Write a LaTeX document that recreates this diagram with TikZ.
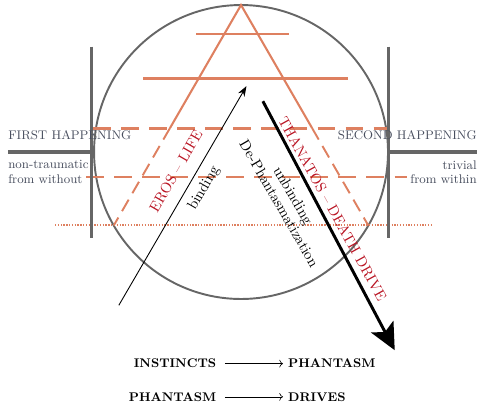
\documentclass[tikz,border=0pt]{standalone}
\usepackage{xcolor}
\usepackage{tikz}
\usetikzlibrary{arrows.meta, positioning}

\definecolor{ochre}{RGB}{222,128,96}
\definecolor{slate}{RGB}{72,78,94}
\definecolor{erosred}{RGB}{185,20,35}

\begin{document}
\begin{tikzpicture}[
  rung/.style={draw=ochre, line width=1.4pt},
  cutline/.style={draw=ochre, line width=2pt, dash pattern=on 12pt off 7pt},
  sideline/.style={draw=ochre, line width=1.3pt, dash pattern=on 9pt off 5pt},
  wall/.style={draw=black!60, line width=2.2pt},
  happen/.style={inner sep=0pt, text=slate, font=\fontsize{8.5}{9.7}\selectfont},
  forcelabel/.style={text=erosred, font=\fontsize{10}{11}\selectfont},
  termnode/.style={font=\fontsize{8.5}{10}\selectfont\bfseries}
]
  \useasboundingbox (-5.74,-6.02) rectangle (5.81,3.62);

  \draw[black!60, line width=1.3pt] (0,0) circle (3.5);

  \coordinate (apex) at (90:3.5);
  \coordinate (leftfoot) at (210:3.5);
  \coordinate (rightfoot) at (330:3.5);
  \coordinate (leftcut) at (-1.692,0.57);
  \coordinate (rightcut) at (1.692,0.57);
  \draw[rung] (leftcut) -- (apex) -- (rightcut);
  \draw[sideline] (leftcut) -- (leftfoot);
  \draw[sideline] (rightcut) -- (rightfoot);

  \draw[rung] (-1.07,2.8) -- (1.14,2.8);
  \draw[rung] (-2.33,1.75) -- (2.54,1.75);
  \draw[cutline] (-3.52,0.57) -- (3.5,0.57);
  \draw[cutline] (-3.69,-0.595) -- (3.95,-0.595);
  \draw[ochre, line width=0.9pt, densely dotted] (-4.43,-1.74) -- (4.55,-1.74);

  \draw[wall] (-3.555,2.51) -- (-3.555,-2.05);
  \draw[wall] (3.52,2.51) -- (3.52,-2.05);
  \draw[wall] (-5.55,0) -- (-3.555,0);
  \draw[wall] (3.52,0) -- (5.62,0);

  \node[happen, anchor=base west] (first) at (-5.55,0.29) {FIRST HAPPENING};
  \node[happen, anchor=base east] (second) at (5.62,0.29) {SECOND HAPPENING};
  \node[happen, anchor=north west, align=left] (without) at (-5.55,-0.2) {non-traumatic\\from without};
  \node[happen, anchor=north east, align=right] (within) at (5.62,-0.2) {trivial\\from within};

  \coordinate (bindstart) at (-2.91,-3.65);
  \coordinate (bindend) at (0.13,1.57);
  \draw[-{Stealth[length=7pt,width=5pt]}, semithick] (bindstart) -- (bindend);
  \coordinate (deathstart) at (0.52,1.21);
  \coordinate (deathend) at (3.66,-4.72);
  \draw[-{Stealth[length=18pt,width=17pt,inset=4pt]}, line width=2pt] (deathstart) -- (deathend);

  \node[forcelabel, rotate=60] (eros) at (-1.55,-0.45) {EROS -- LIFE};
  \node[font=\fontsize{10}{11}\selectfont, rotate=60] (binding) at (-0.88,-0.86) {binding};
  \node[forcelabel, rotate=-61] (thanatos) at (2.18,-1.35) {THANATOS -- DEATH DRIVE};
  \node[font=\fontsize{10}{11}\selectfont, rotate=-60, align=center] (unbinding) at (1.08,-1.13) {unbinding\\De-Phantasmatization};

  \node[termnode, anchor=east] (instincts) at (-0.47,-5.04) {INSTINCTS};
  \node[termnode, right=1.47cm of instincts] (phantasm) {PHANTASM};
  \node[termnode, anchor=east] (phantasmb) at (-0.47,-5.83) {PHANTASM};
  \node[termnode, right=1.47cm of phantasmb] (drives) {DRIVES};
  \draw[->, shorten <=2.5pt] (instincts) -- (phantasm);
  \draw[->, shorten <=2.5pt] (phantasmb) -- (drives);
\end{tikzpicture}
\end{document}
